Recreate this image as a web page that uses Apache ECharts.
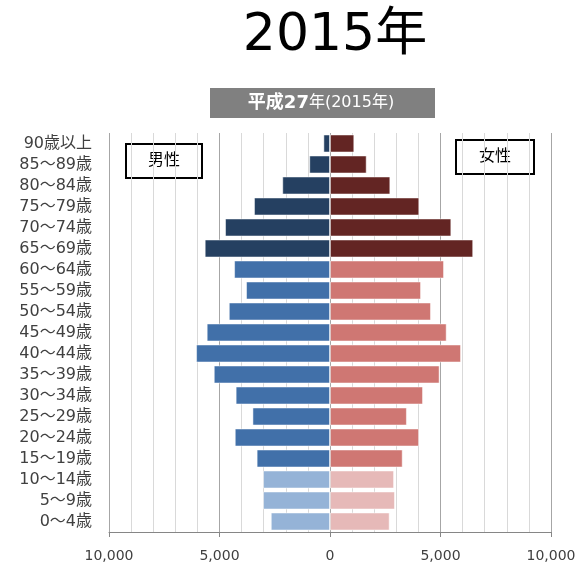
<!DOCTYPE html>
<html>
<head>
<meta charset="utf-8">
<script src="https://cdn.jsdelivr.net/npm/echarts@6/dist/echarts.min.js"></script>
<style>
  html, body { margin: 0; padding: 0; background: #fff; }
  #pyramid { width: 579px; height: 564px; }
</style>
</head>
<body>
<div id="pyramid"></div>
<script>
  // 年齢階級（下から上）
  const ageGroups = ['0～4歳', '5～9歳', '10～14歳', '15～19歳', '20～24歳', '25～29歳',
    '30～34歳', '35～39歳', '40～44歳', '45～49歳', '50～54歳', '55～59歳', '60～64歳',
    '65～69歳', '70～74歳', '75～79歳', '80～84歳', '85～89歳', '90歳以上'];
  const male = [2680, 3030, 3030, 3320, 4310, 3510, 4270, 5260, 6060, 5580, 4580, 3800, 4340,
    5670, 4750, 3440, 2160, 940, 300];
  const female = [2700, 2940, 2900, 3290, 4030, 3480, 4210, 4960, 5930, 5280, 4570, 4120, 5160,
    6480, 5490, 4040, 2730, 1660, 1100];
  const axisTicks = [-10000, -5000, 0, 5000, 10000];

  const maleColors = ['#95b3d7', '#4170a9', '#254061'];
  const femaleColors = ['#e6b9b8', '#cf7773', '#632523'];

  const FONT = '"DejaVu Sans", "Noto Sans CJK JP", sans-serif';

  function band(i) {
    if (i < 3) return 0;
    if (i < 13) return 1;
    return 2;
  }

  const chart = echarts.init(document.getElementById('pyramid'));

  const option = {
    animation: false,
    textStyle: { fontFamily: FONT },
    grid: { left: 109, right: 28, top: 133, bottom: 32 },
    xAxis: {
      type: 'value',
      min: axisTicks[0],
      max: axisTicks[axisTicks.length - 1],
      interval: 5000,
      axisLine: { show: true, onZero: false, lineStyle: { color: '#868686' } },
      axisTick: { show: true, length: 5, lineStyle: { color: '#868686' } },
      axisLabel: {
        color: '#404040',
        fontSize: 14,
        fontFamily: FONT,
        margin: 17,
        formatter: function (v) { return Math.abs(v).toLocaleString('en-US'); }
      },
      splitLine: { show: true, lineStyle: { color: '#a6a6a6' } },
      minorTick: { show: false, splitNumber: 5 },
      minorSplitLine: { show: true, lineStyle: { color: '#d9d9d9' } }
    },
    yAxis: {
      type: 'category',
      data: ageGroups,
      axisLine: { show: false },
      axisTick: { show: false },
      axisLabel: { color: '#404040', fontSize: 16, fontFamily: FONT, margin: 17, padding: [3, 0, 0, 0] }
    },
    series: [
      {
        name: '男性',
        type: 'bar',
        barCategoryGap: '14%',
        barGap: '-100%',
        data: male.map(function (v, i) {
          return { value: -v, itemStyle: { color: maleColors[band(i)] } };
        }),
        itemStyle: { borderColor: 'rgba(255,255,255,0.5)', borderWidth: 1 }
      },
      {
        name: '女性',
        type: 'bar',
        barCategoryGap: '14%',
        data: female.map(function (v, i) {
          return { value: v, itemStyle: { color: femaleColors[band(i)] } };
        }),
        itemStyle: { borderColor: 'rgba(255,255,255,0.5)', borderWidth: 1 }
      }
    ],
    graphic: [
      {
        type: 'text', x: 335, y: 36,
        style: { text: '2015年', align: 'center', verticalAlign: 'middle', fontSize: 52, fill: '#000', fontFamily: FONT }
      },
      {
        type: 'rect', shape: { x: 210, y: 88, width: 225, height: 30 },
        style: { fill: '#808080' }
      },
      {
        type: 'text', x: 321, y: 103,
        style: {
          text: '{a|平成27}{b|年(2015年)}',
          align: 'center', verticalAlign: 'middle',
          rich: {
            a: { fontSize: 18, fontWeight: 'bold', fill: '#fff', fontFamily: FONT },
            b: { fontSize: 16, fill: '#fff', fontFamily: FONT }
          }
        }
      },
      {
        type: 'rect', shape: { x: 126, y: 144, width: 76, height: 34 },
        style: { fill: '#fff', stroke: '#000', lineWidth: 2 }
      },
      {
        type: 'text', x: 164, y: 161,
        style: { text: '男性', align: 'center', verticalAlign: 'middle', fontSize: 16, fill: '#000', fontFamily: FONT }
      },
      {
        type: 'rect', shape: { x: 456, y: 140, width: 78, height: 34 },
        style: { fill: '#fff', stroke: '#000', lineWidth: 2 }
      },
      {
        type: 'text', x: 495, y: 157,
        style: { text: '女性', align: 'center', verticalAlign: 'middle', fontSize: 16, fill: '#000', fontFamily: FONT }
      }
    ]
  };

  chart.setOption(option);
</script>
</body>
</html>
